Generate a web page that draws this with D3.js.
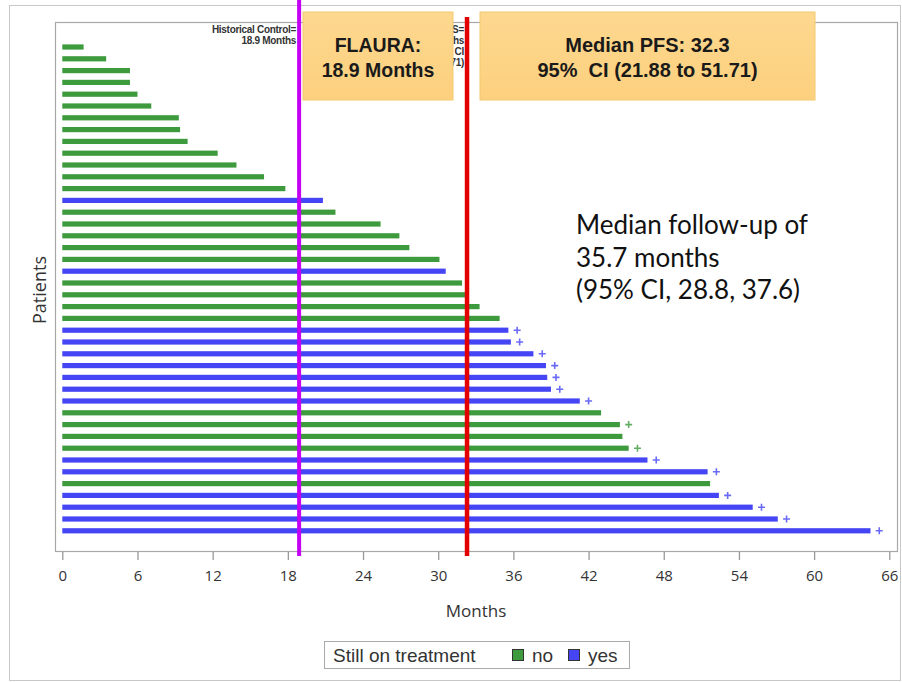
<!DOCTYPE html>
<html>
<head>
<meta charset="utf-8">
<script src="https://cdn.jsdelivr.net/npm/d3@7"></script>
<style>
  body { margin: 0; background: #fff; }
  svg { display: block; }
</style>
</head>
<body>
<div id="chart"></div>
<script>
// months on treatment per patient (top to bottom)
const months = [1.7, 3.5, 5.4, 5.4, 6.0, 7.1, 9.3, 9.4, 10.0, 12.4, 13.9, 16.1, 17.8,
  20.8, 21.8, 25.4, 26.9, 27.7, 30.1, 30.6, 31.9, 32.4, 33.3, 34.9,
  35.6, 35.8, 37.6, 38.6, 38.7, 39.0, 41.3, 43.0, 44.5, 44.7, 45.2,
  46.7, 51.5, 51.7, 52.4, 55.1, 57.1, 64.5];
const stillOn = ["no", "no", "no", "no", "no", "no", "no", "no", "no", "no", "no", "no", "no",
  "yes", "no", "no", "no", "no", "no", "yes", "no", "no", "no", "no",
  "yes", "yes", "yes", "yes", "yes", "yes", "yes", "no", "no", "no", "no",
  "yes", "yes", "no", "yes", "yes", "yes", "yes"];
// 1 = ongoing marker (+)
const ongoing = [0, 0, 0, 0, 0, 0, 0, 0, 0, 0, 0, 0, 0,
  0, 0, 0, 0, 0, 0, 0, 0, 0, 0, 0,
  1, 1, 1, 1, 1, 1, 1, 0, 1, 0, 1,
  1, 1, 0, 1, 1, 1, 1];
const xTicks = [0, 6, 12, 18, 24, 30, 36, 42, 48, 54, 60, 66];
const flaura = 18.9;
const medianPFS = 32.3;

const colors = { no: "#3d9a3d", yes: "#4545f5" };

const data = months.map((m, i) => ({ id: i + 1, months: m, status: stillOn[i], plus: ongoing[i] }));

const width = 902, height = 682;
const svg = d3.select("#chart").append("svg")
  .attr("width", width)
  .attr("height", height);

// outer frame
svg.append("rect")
  .attr("x", 9.5).attr("y", 5.5)
  .attr("width", 891).attr("height", 675)
  .attr("fill", "none").attr("stroke", "#c8c8c8");

var x = d3.scaleLinear().domain([0, 66]).range([62.3, 889.3]);
var y = d3.scaleBand().domain(data.map(d => d.id)).range([41.1, 536.7]);

// plot frame
svg.append("rect")
  .attr("x", 55.5).attr("y", 22.5)
  .attr("width", 842).attr("height", 529)
  .attr("fill", "none").attr("stroke", "#a8a8a8").attr("stroke-width", 1.2);

// bars
svg.selectAll("rect.bar")
  .data(data)
  .enter().append("rect")
  .attr("class", "bar")
  .attr("x", x(0))
  .attr("y", d => y(d.id) + y.bandwidth() / 2 - 2.6)
  .attr("width", d => x(d.months) - x(0))
  .attr("height", 5.2)
  .attr("fill", d => colors[d.status]);

// ongoing markers
const plusGroup = svg.selectAll("g.plus")
  .data(data.filter(d => d.plus))
  .enter().append("g")
  .attr("class", "plus")
  .attr("transform", d => "translate(" + x(d.months + 0.7) + "," + (y(d.id) + y.bandwidth() / 2) + ")");
plusGroup.append("path")
  .attr("d", "M-3.5,0H3.5M0,-3.5V3.5")
  .attr("stroke", d => colors[d.status])
  .attr("stroke-opacity", 0.8)
  .attr("stroke-width", 1.6);

// x axis
var xAxis = d3.axisBottom(x).tickValues(xTicks).tickSize(8).tickSizeOuter(0);
const gx = svg.append("g")
  .attr("transform", "translate(0,552)")
  .call(xAxis);
gx.select(".domain").remove();
gx.selectAll(".tick line").attr("stroke", "#999").attr("stroke-width", 1.3);
gx.selectAll(".tick text")
  .attr("font-family", "Open Sans")
  .attr("font-size", "15px")
  .attr("fill", "#333")
  .attr("dy", "1.2em");

svg.append("text")
  .attr("x", 476).attr("y", 617)
  .attr("text-anchor", "middle")
  .attr("font-family", "Open Sans")
  .attr("font-size", "17px")
  .attr("fill", "#333")
  .text("Months");

svg.append("text")
  .attr("transform", "translate(46,290) rotate(-90)")
  .attr("text-anchor", "middle")
  .attr("font-family", "Open Sans")
  .attr("font-size", "18px")
  .attr("fill", "#333")
  .text("Patients");

// reference lines
svg.append("line")
  .attr("x1", x(flaura)).attr("x2", x(flaura))
  .attr("y1", 0).attr("y2", 556)
  .attr("stroke", "#c400f5").attr("stroke-width", 4);
svg.append("line")
  .attr("x1", x(medianPFS)).attr("x2", x(medianPFS))
  .attr("y1", 17).attr("y2", 556)
  .attr("stroke", "#e30000").attr("stroke-width", 4.5);

// small original SAS labels (partly hidden by the boxes)
const smallLeft = ["Historical Control=", "18.9 Months"];
smallLeft.forEach((t, i) => {
  svg.append("text")
    .attr("x", 296).attr("y", 33 + i * 11)
    .attr("text-anchor", "end")
    .attr("font-family", "Liberation Sans")
    .attr("font-weight", "bold")
    .attr("font-size", "10px")
    .attr("letter-spacing", "-0.3px")
    .attr("fill", "#333")
    .text(t);
});
const smallRight = ["Median PFS=", "32.3 Months", "95% CI", "(21.88, 51.71)"];
svg.append("clipPath").attr("id", "smallclip")
  .append("rect").attr("x", 453).attr("y", 20).attr("width", 20).attr("height", 60);
const smallR = svg.append("g").attr("clip-path", "url(#smallclip)");
smallRight.forEach((t, i) => {
  smallR.append("text")
    .attr("x", 464).attr("y", 33 + i * 11)
    .attr("text-anchor", "end")
    .attr("font-family", "Liberation Sans")
    .attr("font-weight", "bold")
    .attr("font-size", "10px")
    .attr("letter-spacing", "-0.3px")
    .attr("fill", "#333")
    .text(t);
});

// callout boxes
const defs = svg.append("defs");
const grad = defs.append("linearGradient")
  .attr("id", "boxfill").attr("x1", 0).attr("x2", 0).attr("y1", 0).attr("y2", 1);
grad.append("stop").attr("offset", "0%").attr("stop-color", "#fdd88f");
grad.append("stop").attr("offset", "100%").attr("stop-color", "#fcd07e");

const boxes = [
  { x0: 303, x1: 453, lines: ["FLAURA:", "18.9 Months"], size: 19.5 },
  { x0: 480, x1: 815, lines: ["Median PFS: 32.3", "95%\u00a0 CI (21.88 to 51.71)"], size: 20 }
];
boxes.forEach(b => {
  svg.append("rect")
    .attr("x", b.x0).attr("y", 12)
    .attr("width", b.x1 - b.x0).attr("height", 88)
    .attr("fill", "url(#boxfill)")
    .attr("stroke", "#f3c970").attr("stroke-width", 1);
  b.lines.forEach((t, i) => {
    svg.append("text")
      .attr("x", (b.x0 + b.x1) / 2).attr("y", 52 + i * 25)
      .attr("text-anchor", "middle")
      .attr("font-family", "Liberation Sans")
      .attr("font-weight", "bold")
      .attr("font-size", b.size + "px")
      .attr("fill", "#1a1a1a")
      .text(t);
  });
});

// follow-up note
const note = ["Median follow-up of", "35.7 months", "(95% CI, 28.8, 37.6)"];
note.forEach((t, i) => {
  svg.append("text")
    .attr("x", 576).attr("y", 234 + i * 32.5)
    .attr("font-family", "Lato")
    .attr("font-size", "26px")
    .attr("fill", "#111")
    .text(t);
});

// legend
const lg = svg.append("g");
lg.append("rect")
  .attr("x", 324.5).attr("y", 641.5)
  .attr("width", 305).attr("height", 27)
  .attr("fill", "#fff").attr("stroke", "#aaa");
lg.append("text")
  .attr("x", 333).attr("y", 662)
  .attr("font-family", "Liberation Sans")
  .attr("font-size", "19px")
  .attr("fill", "#333")
  .text("Still on treatment");
const legendItems = [{ key: "no", x: 512 }, { key: "yes", x: 568 }];
legendItems.forEach(it => {
  lg.append("rect")
    .attr("x", it.x + 0.5).attr("y", 649.5)
    .attr("width", 11).attr("height", 11)
    .attr("fill", colors[it.key]).attr("stroke", "#333");
  lg.append("text")
    .attr("x", it.x + 20).attr("y", 662)
    .attr("font-family", "Liberation Sans")
    .attr("font-size", "19px")
    .attr("fill", "#333")
    .text(it.key);
});
</script>
</body>
</html>
